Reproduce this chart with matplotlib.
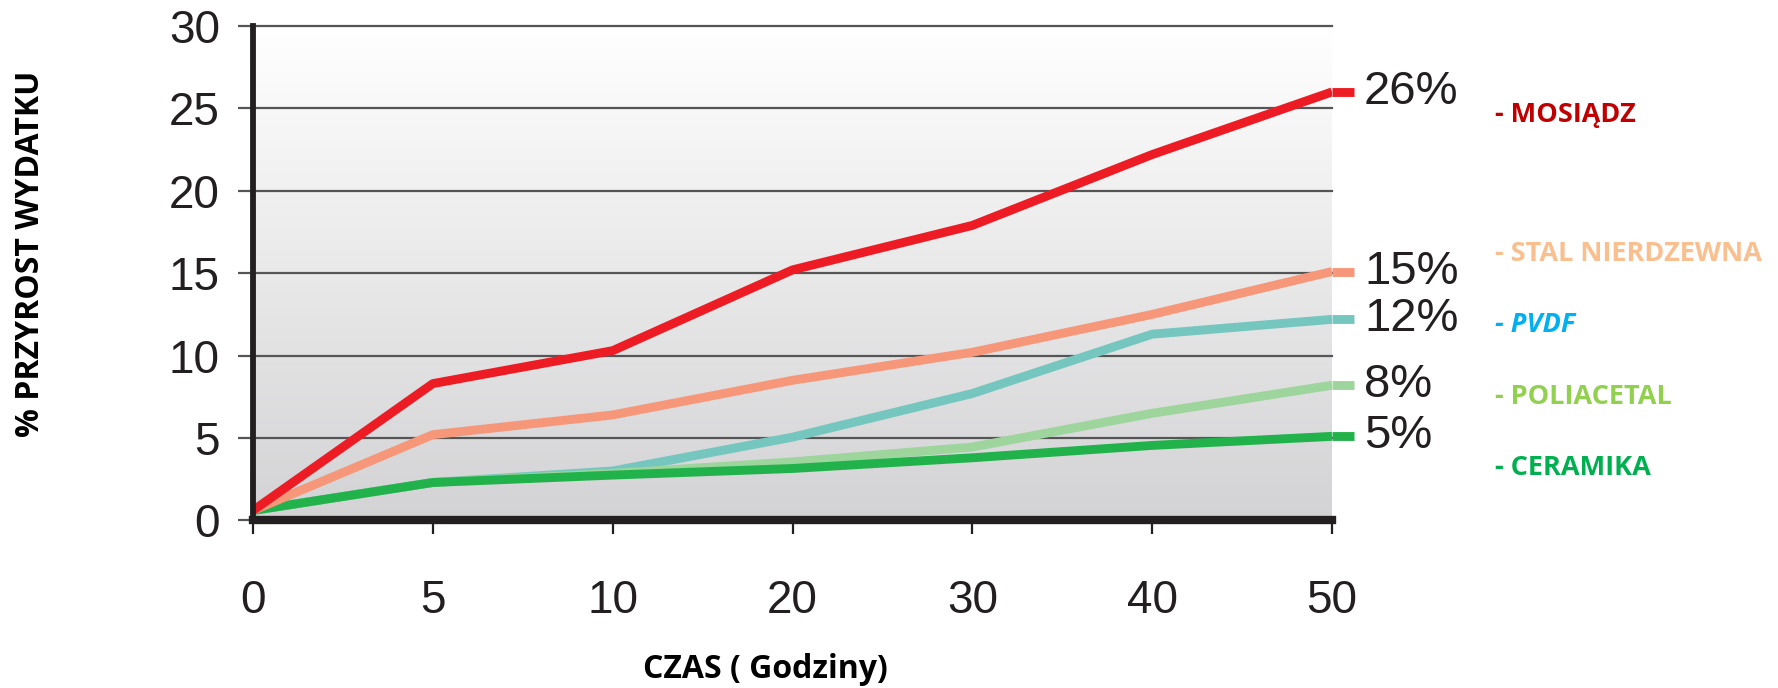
import numpy as np
import matplotlib
matplotlib.use('Agg')
import matplotlib.pyplot as plt
from matplotlib.colors import LinearSegmentedColormap

# czas w godzinach (os kategorii) i przyrost wydatku w %
godziny = ['0', '5', '10', '20', '30', '40', '50']
mosiadz = [0.6, 8.3, 10.3, 15.2, 17.9, 22.2, 26.0]
stal = [0.6, 5.2, 6.4, 8.5, 10.2, 12.5, 15.1]
pvdf = [0.6, 2.3, 3.0, 5.05, 7.7, 11.3, 12.2]
poliacetal = [0.6, 2.3, 2.85, 3.55, 4.45, 6.5, 8.2]
ceramika = [0.6, 2.3, 2.75, 3.15, 3.8, 4.55, 5.1]

nazwy = ['- MOSIĄDZ', '- STAL NIERDZEWNA', '- PVDF', '- POLIACETAL', '- CERAMIKA']
serie = [mosiadz, stal, pvdf, poliacetal, ceramika]

kolory_linii = ['#ED1C24', '#F7977A', '#76C6C0', '#9DD59D', '#22B24C']
kolory_opisow = ['#C00000', '#FABF8F', '#00B0F0', '#92D050', '#00B050']
kursywa = [False, False, True, False, False]
opis_y = [115, 254, 325, 397, 468]  # px od gory
kolejnosc = [2, 3, 4, 1, 0]  # ktora linia na wierzchu

W, H = 1778, 688
fig = plt.figure(figsize=(W / 100, H / 100), dpi=100)
ax = fig.add_axes([253 / W, 1 - 520.4 / H, (1332 - 253) / W, (520.4 - 26) / H])

x = np.arange(len(godziny))

# tlo z gradientem
tlo = LinearSegmentedColormap.from_list('tlo', ['#FFFFFF', '#D3D3D5'])
ax.imshow(np.linspace(0, 1, 256).reshape(-1, 1), cmap=tlo, aspect='auto',
          extent=[0, len(godziny) - 1, 0, 30], origin='upper', zorder=0)

lw = 6.4
for i in kolejnosc:
    y = serie[i]
    z = 3 + kolejnosc.index(i)
    ax.plot(x, y, color=kolory_linii[i], lw=lw, solid_capstyle='butt',
            solid_joinstyle='round', zorder=z)
    # krotki poziomy koniec za osia
    ax.plot([x[-1], x[-1] + 0.125], [y[-1], y[-1]], color=kolory_linii[i], lw=lw,
            solid_capstyle='butt', clip_on=False, zorder=z)
    ax.annotate(f'{y[-1]:.0f}%', xy=(x[-1], y[-1]), xytext=(23, 0),
                textcoords='offset points', ha='left', va='center',
                fontsize=34, family='Liberation Sans', color='#231F20')

ax.set_xlim(0, len(godziny) - 1)
ax.set_ylim(0, 30)
ax.set_xticks(x)
ax.set_xticklabels(godziny)
ax.set_yticks(range(0, 31, 5))

ax.set_axisbelow(True)
ax.yaxis.grid(True, color='#555555', lw=1.6)
for g in ax.get_ygridlines():
    g.set_clip_on(False)

for s in ['top', 'right']:
    ax.spines[s].set_visible(False)
ax.spines['left'].set_linewidth(4.2)
ax.spines['left'].set_color('#231F20')
ax.spines['bottom'].set_linewidth(6)
ax.spines['bottom'].set_color('#231F20')
ax.spines['left'].set_zorder(10)
ax.spines['bottom'].set_zorder(10)

ax.tick_params(axis='y', length=10.8, width=1.6, color='#555555', pad=13,
               labelsize=33, labelcolor='#231F20')
ax.tick_params(axis='x', length=10, width=1.6, color='#231F20', pad=32,
               labelsize=33, labelcolor='#231F20')
for t in ax.get_xticklabels() + ax.get_yticklabels():
    t.set_family('Liberation Sans')

fig.text(31 / W, 1 - 254 / H, '% PRZYROST WYDATKU', rotation=90, ha='center',
         va='center', fontsize=23, weight='bold', family='Open Sans', color='black')
fig.text(765 / W, 1 - 669 / H, 'CZAS ( Godziny)', ha='center', va='center',
         fontsize=23, weight='bold', family='Open Sans', color='black')

for nazwa, kol, it, yy in zip(nazwy, kolory_opisow, kursywa, opis_y):
    fig.text(1495 / W, 1 - yy / H, nazwa, ha='left', va='center', fontsize=19.5,
             weight='bold', style='italic' if it else 'normal',
             family='Open Sans', color=kol)

fig.savefig('out.png', dpi=100, facecolor='white')
